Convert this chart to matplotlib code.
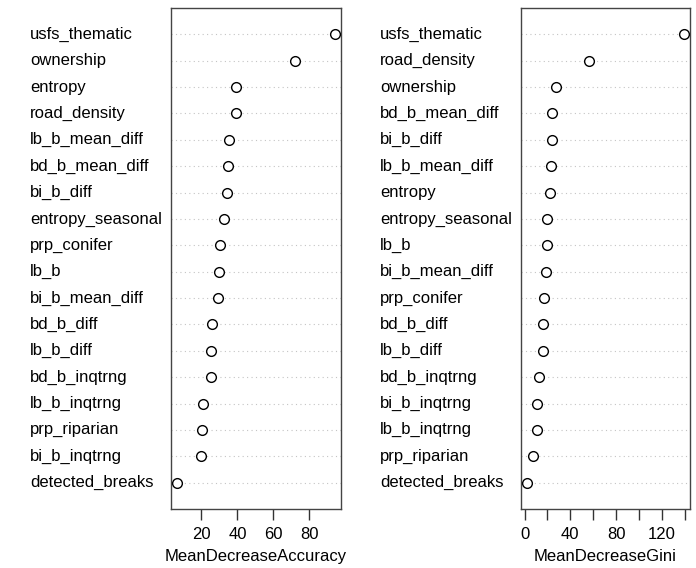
import matplotlib
matplotlib.use('Agg')
import matplotlib.pyplot as plt
import matplotlib.transforms as mtransforms

plt.rcParams['font.family'] = ['Liberation Sans', 'DejaVu Sans']

# variable importance, top to bottom as shown
acc_vars = ['usfs_thematic', 'ownership', 'entropy', 'road_density', 'lb_b_mean_diff',
            'bd_b_mean_diff', 'bi_b_diff', 'entropy_seasonal', 'prp_conifer', 'lb_b',
            'bi_b_mean_diff', 'bd_b_diff', 'lb_b_diff', 'bd_b_inqtrng', 'lb_b_inqtrng',
            'prp_riparian', 'bi_b_inqtrng', 'detected_breaks']
acc_vals = [94.1, 72.0, 39.3, 39.0, 35.4, 34.7, 34.3, 32.6, 30.4, 29.7,
            29.1, 25.8, 25.4, 25.3, 20.7, 20.4, 20.0, 6.6]

gini_vars = ['usfs_thematic', 'road_density', 'ownership', 'bd_b_mean_diff', 'bi_b_diff',
             'lb_b_mean_diff', 'entropy', 'entropy_seasonal', 'lb_b', 'bi_b_mean_diff',
             'prp_conifer', 'bd_b_diff', 'lb_b_diff', 'bd_b_inqtrng', 'bi_b_inqtrng',
             'lb_b_inqtrng', 'prp_riparian', 'detected_breaks']
gini_vals = [139.2, 56.0, 27.2, 24.0, 23.7, 23.1, 22.5, 19.5, 19.3, 18.7,
             16.9, 16.3, 15.7, 12.7, 10.9, 10.7, 7.7, 2.3]

acc_ticks = [20, 40, 60, 80]
gini_ticks = [0, 20, 40, 60, 80, 100, 120, 140]
gini_labels = ['0', '', '40', '', '80', '', '120', '']

W, H = 696, 568
fig = plt.figure(figsize=(W / 100, H / 100), dpi=100)


def dotchart(ax, names, vals, label_x, ticks, ticklabels, xlabel):
    n = len(vals)
    ys = list(range(n, 0, -1))
    lo, hi = min(vals), max(vals)
    pad = (hi - lo) * 0.04
    ax.set_xlim(lo - pad, hi + pad)
    ax.set_ylim(0, n + 1)
    for y in ys:
        ax.axhline(y, color='#c4c4c4', linestyle=(0, (1, 3)), linewidth=0.8, zorder=1)
    ax.plot(vals, ys, 'o', markerfacecolor='white', markeredgecolor='black',
            markersize=7, markeredgewidth=1.0, zorder=3, clip_on=False)
    trans = mtransforms.blended_transform_factory(fig.transFigure, ax.transData)
    for name, y in zip(names, ys):
        ax.text(label_x / W, y, name, transform=trans, ha='left', va='center',
                fontsize=12, color='black')
    ax.set_yticks([])
    ax.set_xticks(ticks)
    ax.set_xticklabels(ticklabels)
    ax.tick_params(axis='x', length=8, width=1, pad=5, labelsize=12, color='#333333')
    ax.set_xlabel(xlabel, fontsize=12, labelpad=5)
    for sp in ax.spines.values():
        sp.set_color('#444444')
        sp.set_linewidth(1.0)


top, bottom = 8, 509
ax1 = fig.add_axes([171 / W, (H - bottom) / H, 170 / W, (bottom - top) / H])
ax2 = fig.add_axes([521 / W, (H - bottom) / H, 169 / W, (bottom - top) / H])

dotchart(ax1, acc_vars, acc_vals, 30, acc_ticks, [str(t) for t in acc_ticks],
         'MeanDecreaseAccuracy')
dotchart(ax2, gini_vars, gini_vals, 380, gini_ticks, gini_labels, 'MeanDecreaseGini')

plt.savefig('out.png', dpi=100)
plt.close()
